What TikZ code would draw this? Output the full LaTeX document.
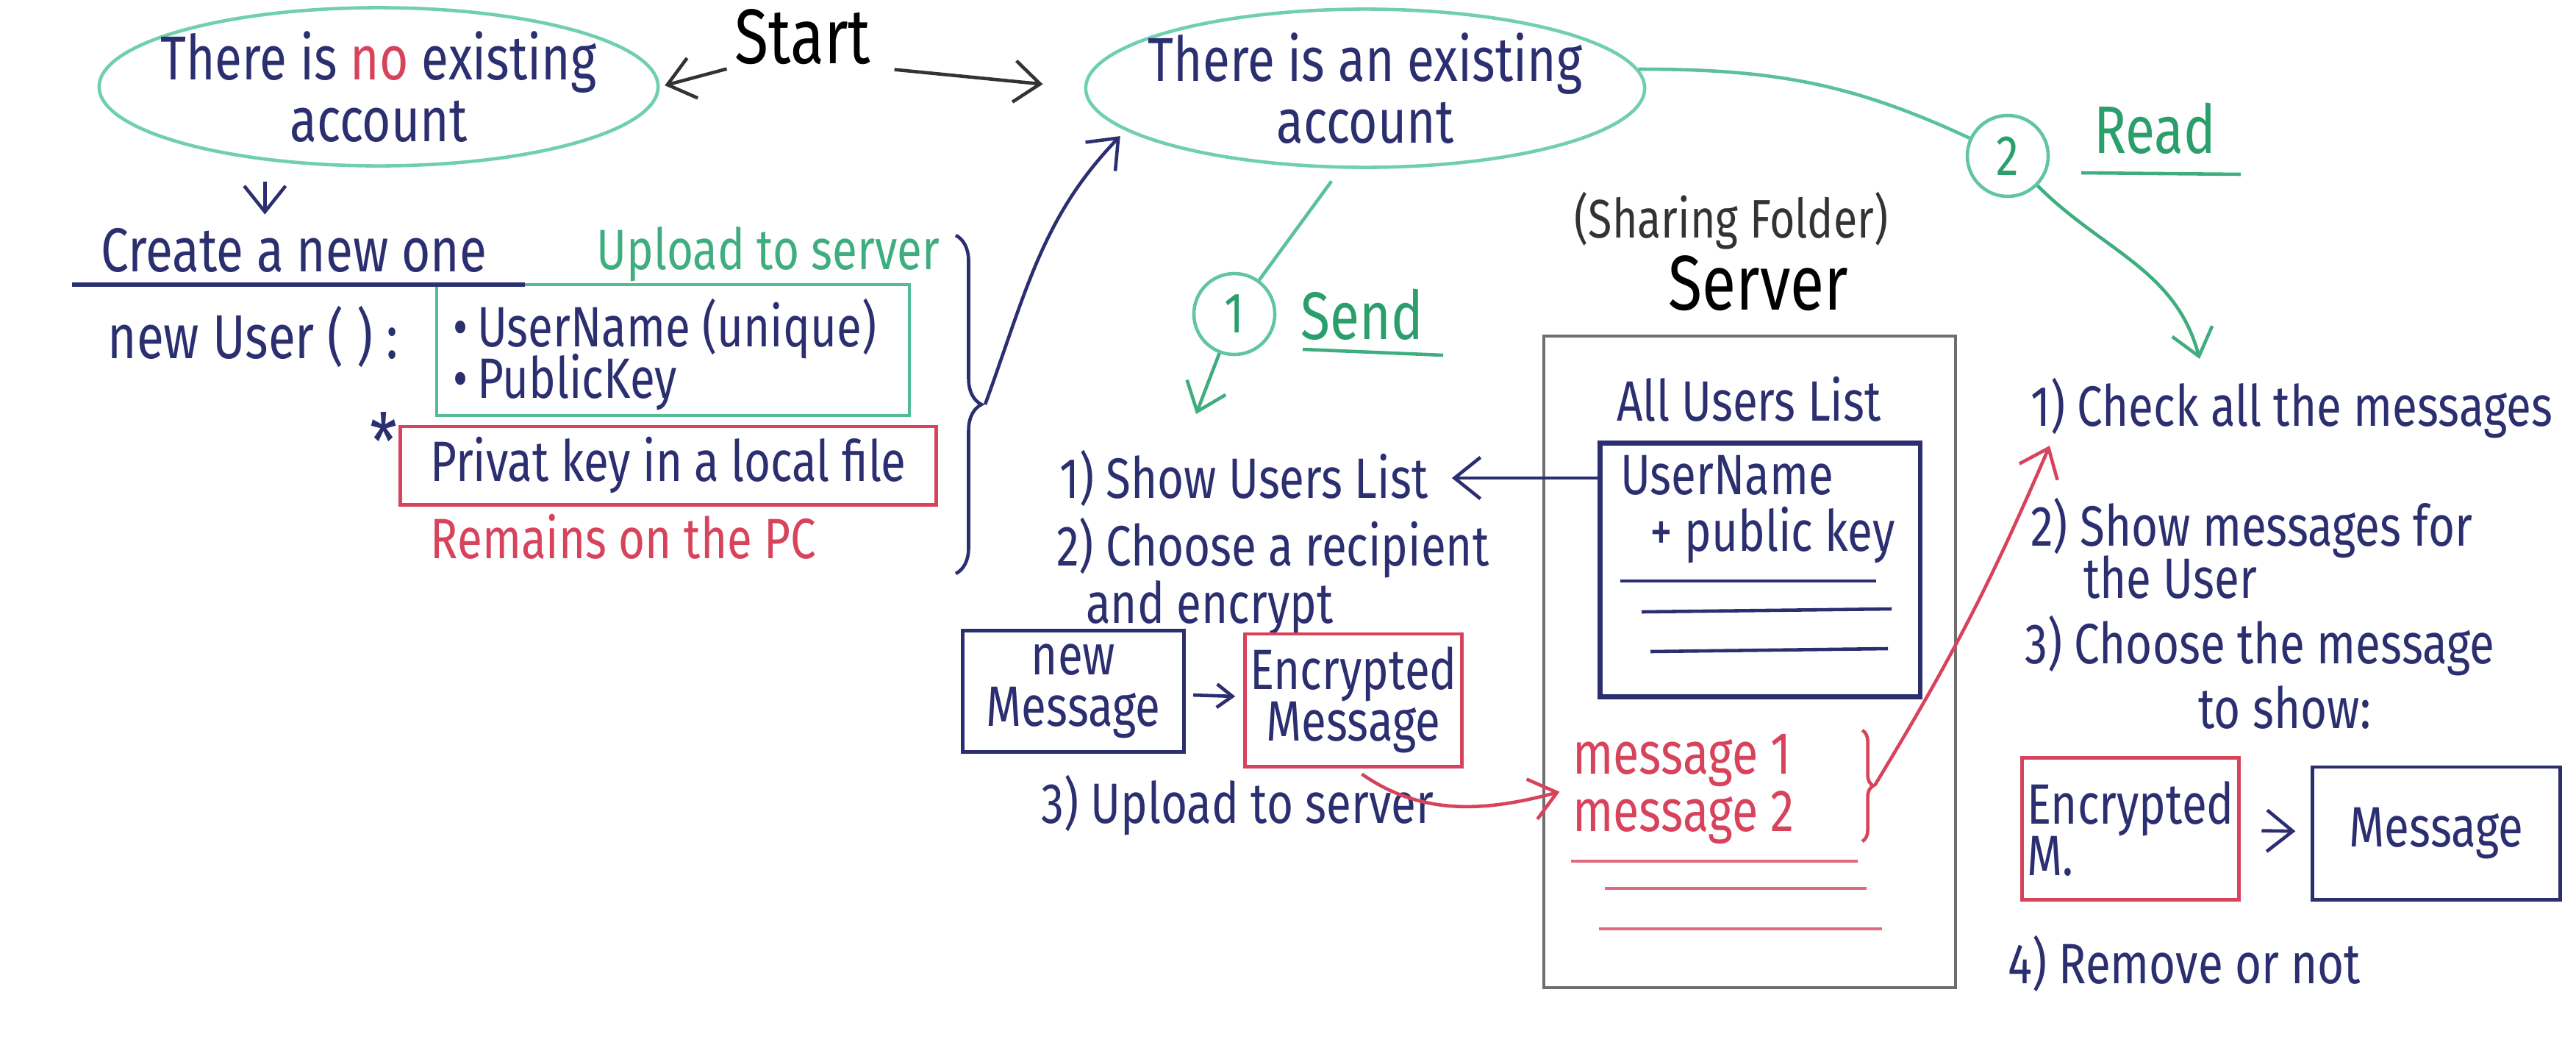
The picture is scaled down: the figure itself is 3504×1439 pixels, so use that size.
\documentclass[tikz,border=0pt]{standalone}
\usepackage{fontspec}
\setmainfont{Fira Sans}[FakeStretch=0.8]
\usetikzlibrary{shapes.geometric, arrows.meta, decorations.pathreplacing, positioning}

\definecolor{ink}{HTML}{2B2F70}
\definecolor{mint}{HTML}{6FCFAE}
\definecolor{leaf}{HTML}{2A9F6C}
\definecolor{rosy}{HTML}{D8435C}
\definecolor{slate}{HTML}{6E6E6E}

\begin{document}
\begin{tikzpicture}[
  x=0.01cm, y=0.01cm,
  hand/.style={font=\fontsize{22}{20}\selectfont, text=ink, inner sep=1pt},
  bighand/.style={font=\fontsize{30}{30}\selectfont, text=black, inner sep=1pt},
  bubble/.style={ellipse, draw=mint, line width=1.3pt, align=center, text=ink,
    font=\fontsize{24}{24}\selectfont, inner xsep=-0.35cm, inner ysep=-0.2cm,
    minimum width=7.6cm, minimum height=2.15cm},
  numc/.style={circle, draw=mint!80!leaf, line width=1.3pt, minimum size=1.1cm,
    inner sep=0pt, text=leaf, font=\fontsize{22}{22}\selectfont},
  inkbox/.style={hand, draw=ink, line width=1.4pt, align=center, inner sep=2pt},
  redbox/.style={hand, draw=rosy, line width=1.4pt, align=center, inner sep=2pt},
  arr/.style={-{Straight Barb[length=10pt, width=16pt]}, line width=1.3pt},
  pen/.style={line width=1.3pt}
]
  % page frame of the scan
  \useasboundingbox (0,0) rectangle (3504,-1439);

  % account question
  \node[bighand] (start) at (1092,-50) {Start};
  \node[bubble] (noacc) at (515,-118) {There is {\color{rosy}no} existing\\account};
  \node[bubble] (acc) at (1857,-120) {There is an existing\\account};
  \draw[arr, black!80, shorten <=2pt, shorten >=2pt] (start.south west) -- (noacc.east);
  \draw[arr, black!80, shorten <=8pt, shorten >=16pt] (start.south east) -- (acc.west);

  % create a new account
  \node[hand, font=\fontsize{24}{24}\selectfont] (create) at (400,-340) {Create a new one};
  \draw[arr, ink, shorten <=8pt, shorten >=4pt] (noacc.213) -- (noacc.213 |- create.north);
  \node[hand, text=leaf!70!mint] (upl) at (1045,-346) {Upload to server};
  \draw[pen, mint!60!leaf] (594,-387) rectangle (1237,-565);
  \draw[ink, line width=1.6pt] (98,-387) -- (714,-387);
  \node[hand, font=\fontsize{24}{24}\selectfont] (newuser) at (344,-458) {new User ( ) :};
  \node[hand, anchor=west] (uname) at (612,-447) {\textbullet\,UserName (unique)};
  \node[hand, anchor=west] (pkey) at (612,-520) {\textbullet\,PublicKey};
  \node[redbox, minimum width=7.28cm, minimum height=1.06cm] (priv) at (909,-633) {Privat key in a local file};
  \node[hand, font=\fontsize{30}{30}\selectfont] (star) at (522,-600) {*};
  \node[hand, text=rosy] (remain) at (848,-730) {Remains on the PC};

  % brace back to the existing account
  \draw[pen, ink, decorate, decoration={brace, amplitude=0.35cm}] (1300,-320) -- (1300,-780);
  \coordinate (btip) at (1340,-550);
  \draw[arr, ink, shorten >=3pt] (btip) to[out=70, in=226] (acc.190);

  % 1 send
  \node[numc] (one) at (1679,-427) {1};
  \draw[pen, mint!70!leaf, shorten <=6pt] (acc.253) -- (one);
  \node[hand, text=leaf, font=\fontsize{26}{26}\selectfont] (send) at (1853,-428) {Send};
  \draw[pen, leaf!70!mint] (1772,-475) -- (1963,-483);
  \coordinate (sendin) at (1627,-563);
  \draw[arr, leaf!70!mint] (one) -- (sendin);

  \node[hand, anchor=west] (show) at (1437,-650) {1) Show Users List};
  \node[hand, anchor=north west, align=left, font=\fontsize{22}{21}\selectfont] (choose) at (1433,-700)
    {2) Choose a recipient\\\hspace*{0.4cm}and encrypt};
  \node[inkbox, minimum width=3.0cm, minimum height=1.65cm] (newmsg) at (1460,-940) {new\\Message};
  \node[redbox, minimum width=2.86cm, minimum height=1.8cm] (enc) at (1841,-952) {Encrypted\\Message};
  \draw[-{Straight Barb[length=6pt, width=9pt]}, pen, ink, shorten <=3pt, shorten >=3pt] (newmsg) -- (enc);
  \node[hand, anchor=west] (upto) at (1412,-1095) {3) Upload to server};

  % server
  \node[hand, text=black!80, font=\fontsize{21}{21}\selectfont] (share) at (2355,-300) {(Sharing Folder)};
  \node[bighand] (server) at (2392,-385) {Server};
  \draw[pen, slate] (2100,-457) rectangle (2660,-1343);
  \node[hand] (all) at (2379,-543) {All Users List};
  \node[draw=ink, line width=1.8pt, minimum width=4.35cm, minimum height=3.45cm] (ulist) at (2394,-775) {};
  \node[hand, anchor=north west, align=left, font=\fontsize{22}{22}\selectfont] (ukeys) at (2200,-615)
    {UserName\\\hspace*{0.4cm}+ public key};
  \draw[pen, ink] (2204,-790) -- (2552,-790);
  \draw[pen, ink] (2233,-832) -- (2573,-828);
  \draw[pen, ink] (2245,-886) -- (2568,-882);
  \draw[arr, ink, shorten >=8pt] (ulist.west |- show) -- (show.east);

  \node[hand, text=rosy, anchor=west, align=left, font=\fontsize{23}{22}\selectfont] (msgs) at (2135,-1073)
    {message 1\\message 2};
  \draw[pen, rosy!80] (2137,-1171) -- (2527,-1171);
  \draw[pen, rosy!80] (2183,-1208) -- (2539,-1208);
  \draw[pen, rosy!80] (2175,-1263) -- (2560,-1263);
  \draw[arr, rosy, shorten <=4pt, shorten >=4pt] (enc.south) to[out=-35, in=195] (msgs.west);
  \draw[pen, rosy, decorate, decoration={brace, amplitude=0.15cm}] (2533,-993) -- (2533,-1144);
  \coordinate (mtip) at (2550,-1068);
  \coordinate (readin) at (2788,-606);
  \draw[arr, rosy] (mtip) to[bend right=4] (readin);

  % 2 read
  \node[numc] (two) at (2731,-212) {2};
  \draw[pen, mint!70!leaf] (acc.4) to[out=0, in=155] (two);
  \node[hand, text=leaf, font=\fontsize{26}{26}\selectfont] (read) at (2931,-175) {Read};
  \draw[pen, leaf!70!mint] (2831,-235) -- (3048,-237);
  \coordinate (readout) at (2992,-488);
  \draw[arr, leaf!70!mint] (two) to[out=-45, in=105] (readout);

  \node[hand, anchor=west] (check) at (2758,-555) {1) Check all the messages};
  \node[hand, anchor=west] (showm) at (2758,-718) {2) Show messages for};
  \node[hand, anchor=west] (theuser) at (2830,-785) {the User};
  \node[hand, anchor=west] (choosem) at (2750,-878) {3) Choose the message};
  \node[hand, anchor=west] (toshow) at (2986,-962) {to show:};
  \node[redbox, minimum width=2.65cm, minimum height=1.93cm, align=left] (encm) at (2898,-1127) {Encrypted\\M.};
  \node[inkbox, minimum width=3.36cm, minimum height=1.8cm] (plain) at (3314,-1133) {Message};
  \draw[arr, ink, shorten <=8pt, shorten >=6pt] (encm) -- (plain);
  \node[hand, anchor=west] (remove) at (2727,-1310) {4) Remove or not};
\end{tikzpicture}
\end{document}
